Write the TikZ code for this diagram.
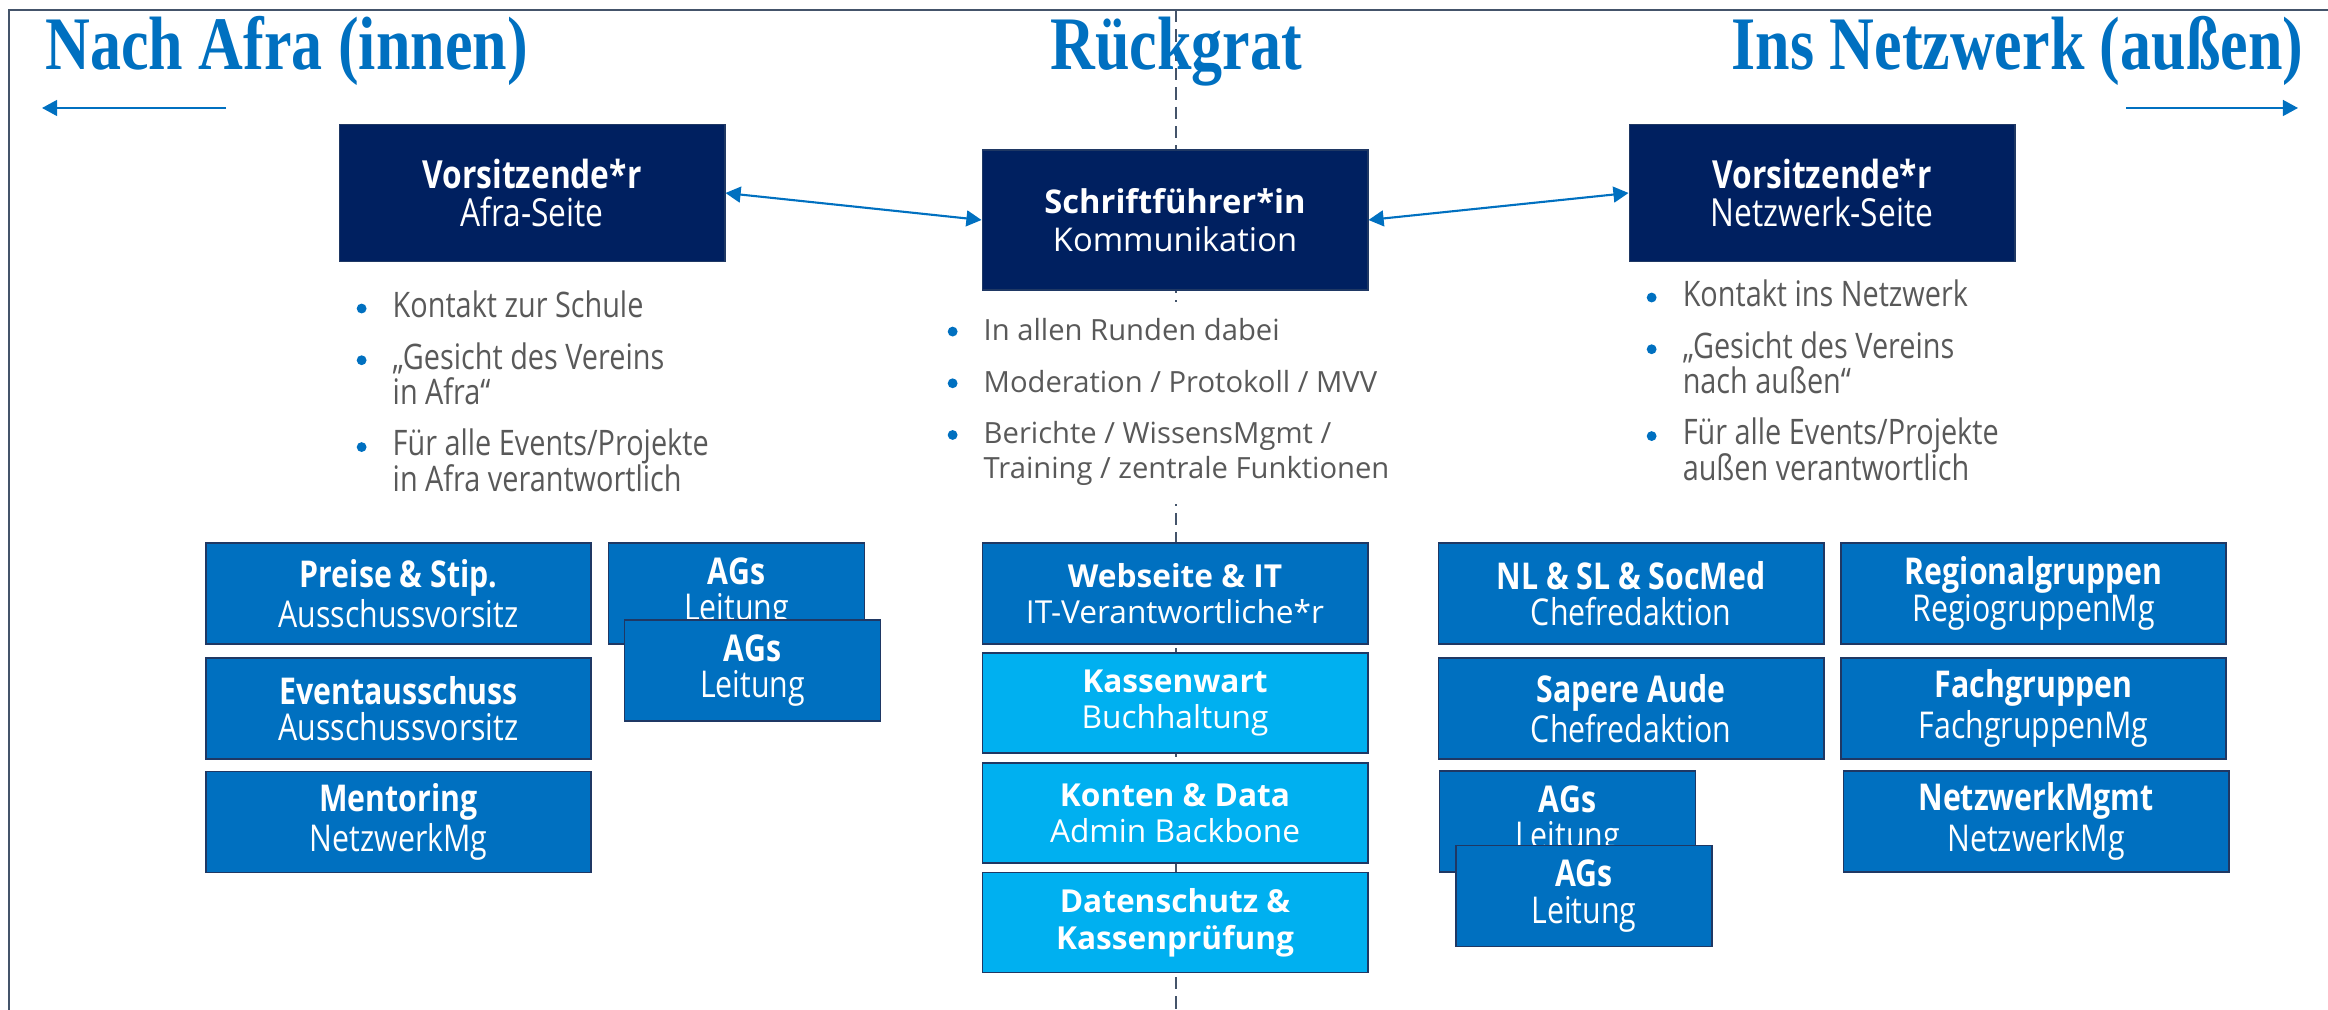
\documentclass[tikz,border=0pt]{standalone}
\usepackage{fontspec}
\setmainfont{Open Sans}
\newfontfamily\sidefont{Open Sans}[FakeStretch=0.82]
\newfontfamily\headfont{Liberation Serif}[FakeStretch=0.82]
\usepackage{xcolor}
\usepackage{tikz}
\usetikzlibrary{arrows.meta,positioning}
\definecolor{afraNavy}{RGB}{0,32,96}
\definecolor{afraBlue}{RGB}{0,112,192}
\definecolor{afraCyan}{RGB}{0,176,240}
\definecolor{afraGray}{RGB}{89,89,89}
\definecolor{afraLine}{RGB}{68,84,106}
\definecolor{afraEdge}{RGB}{31,56,100}
\newcommand{\bulletmark}{\tikz[baseline=-2.5pt]\fill[afraBlue] (0,0) circle (1.4pt);}
\newcommand{\taskline}[1]{\smash{#1}}

\begin{document}
\begin{tikzpicture}[x=0.01cm,y=-0.01cm,
  role/.style={draw=afraEdge, line width=0.5pt, text=white, align=center, inner sep=0pt,
    font=\fontsize{9}{10.4}\selectfont},
  chairbox/.style={role, fill=afraNavy, minimum width=3.85cm, minimum height=1.37cm},
  teambox/.style={role, fill=afraBlue, minimum width=3.85cm, minimum height=1.01cm},
  corebox/.style={role, fill=afraCyan, minimum width=3.85cm, minimum height=1.0cm},
  agbox/.style={role, fill=afraBlue, minimum width=2.56cm, minimum height=1.01cm},
  sidetext/.style={font=\sidefont\fontsize{10.5}{10.4}\selectfont},
  heading/.style={text=afraBlue, inner sep=0pt, font=\headfont\bfseries\fontsize{21.5}{24}\selectfont},
  tasks/.style={text=afraGray, inner sep=0pt, anchor=north west, font=\fontsize{8.3}{10}\selectfont},
  link/.style={afraBlue, line width=0.6pt, {Triangle[length=4.3pt,width=4.5pt]}-{Triangle[length=4.3pt,width=4.5pt]}},
  ]
\useasboundingbox (0,0) rectangle (2328,1010);
\draw[afraLine, line width=0.8pt] (2328,10) -- (9,10) -- (9,1010);

\coordinate (spineTop) at (1176,10);
\coordinate (spineEnd) at (1176,1010);
\draw[afraLine, line width=0.6pt, dash pattern=on 3.5pt off 2pt] (spineTop) -- (spineEnd);

\node[heading, anchor=base west] (innenTitle) at (45,70) {Nach Afra (innen)};
\node[heading, anchor=base] (spineTitle) at (1176,70) {Rückgrat};
\node[heading, anchor=base east] (aussenTitle) at (2304,70) {Ins Netzwerk (außen)};

\coordinate (innenFrom) at (226,108);
\coordinate (innenTo) at (42,108);
\coordinate (aussenFrom) at (2126,108);
\coordinate (aussenTo) at (2298,108);
\draw[afraBlue, line width=0.6pt, -{Triangle[length=4.3pt,width=4.5pt]}] (innenFrom) -- (innenTo);
\draw[afraBlue, line width=0.6pt, -{Triangle[length=4.3pt,width=4.5pt]}] (aussenFrom) -- (aussenTo);

% Vorstand
\node[chairbox, font=\sidefont\fontsize{11}{10.8}\selectfont] (chairAfra) at (532,193) {\textbf{Vorsitzende*r}\\Afra-Seite};
\node[chairbox, minimum height=1.40cm, font=\fontsize{9.3}{10.8}\selectfont] (secretary) at (1175,220) {\textbf{Schriftführer*in}\\Kommunikation};
\node[chairbox, font=\sidefont\fontsize{11}{10.8}\selectfont] (chairNetz) at (1822,193) {\textbf{Vorsitzende*r}\\Netzwerk-Seite};
\draw[link] (chairAfra.east) -- (secretary.west);
\draw[link] (secretary.east) -- (chairNetz.west);

\node[tasks, font=\sidefont\fontsize{10}{10}\selectfont] (afraTasks) at (356,292) {%
\begin{tabular}{@{}p{0.36cm}@{}l@{}}
\bulletmark & \taskline{Kontakt zur Schule}\\[4.7pt]
\bulletmark & \taskline{„Gesicht des Vereins}\\
 & \taskline{in Afra“}\\[4.7pt]
\bulletmark & \taskline{Für alle Events/Projekte}\\
 & \taskline{in Afra verantwortlich}
\end{tabular}};
\node[tasks, fill=white, inner ysep=4pt] (spineTasks) at (947,301) {%
\begin{tabular}{@{}p{0.36cm}@{}l@{}}
\bulletmark & \taskline{In allen Runden dabei}\\[4.7pt]
\bulletmark & \taskline{Moderation / Protokoll / MVV}\\[4.7pt]
\bulletmark & \taskline{Berichte / WissensMgmt /}\\
 & \taskline{Training / zentrale Funktionen}
\end{tabular}};
\node[tasks, font=\sidefont\fontsize{10}{10}\selectfont] (netzTasks) at (1646,281) {%
\begin{tabular}{@{}p{0.36cm}@{}l@{}}
\bulletmark & \taskline{Kontakt ins Netzwerk}\\[4.7pt]
\bulletmark & \taskline{„Gesicht des Vereins}\\
 & \taskline{nach außen“}\\[4.7pt]
\bulletmark & \taskline{Für alle Events/Projekte}\\
 & \taskline{außen verantwortlich}
\end{tabular}};

% Ausschuesse innen
\foreach \y/\id/\hd/\rl in {593.5/preise/{Preise \& Stip.}/Ausschussvorsitz,
    708.5/events/Eventausschuss/Ausschussvorsitz, 822/mentoring/Mentoring/NetzwerkMg}
  \node[teambox, sidetext] (\id) at (398.5,\y) {\textbf{\hd}\\\rl};
\node[agbox, sidetext] (agsAfraBack) at (736.5,593.5) {\textbf{AGs}\\Leitung};
\node[agbox, sidetext] (agsAfra) at (752.5,670.5) {\textbf{AGs}\\Leitung};

% Rueckgrat
\node[teambox] (website) at (1175,593.5) {\textbf{Webseite \& IT}\\IT-Verantwortliche*r};
\foreach \y/\id/\hd/\rl in {703/kasse/Kassenwart/Buchhaltung, 813/konten/{Konten \& Data}/{Admin Backbone}}
  \node[corebox] (\id) at (1175,\y) {\textbf{\hd}\\\rl};
\node[corebox] (pruefung) at (1175,922.5) {\textbf{Datenschutz \&}\\\textbf{Kassenprüfung}};

% Netzwerk aussen
\foreach \x/\y/\id/\hd/\rl in {1631/593.5/newsletter/{NL \& SL \& SocMed}/Chefredaktion,
    1631/708.5/sapere/{Sapere Aude}/Chefredaktion, 2033.5/593.5/regio/Regionalgruppen/RegiogruppenMg,
    2033.5/708.5/fach/Fachgruppen/FachgruppenMg, 2036/821.5/netzmgmt/NetzwerkMgmt/NetzwerkMg}
  \node[teambox, sidetext] (\id) at (\x,\y) {\textbf{\hd}\\\rl};
\node[agbox, sidetext] (agsNetzBack) at (1567.5,821.5) {\textbf{AGs}\\Leitung};
\node[agbox, sidetext] (agsNetz) at (1584,896) {\textbf{AGs}\\Leitung};
\end{tikzpicture}
\end{document}
